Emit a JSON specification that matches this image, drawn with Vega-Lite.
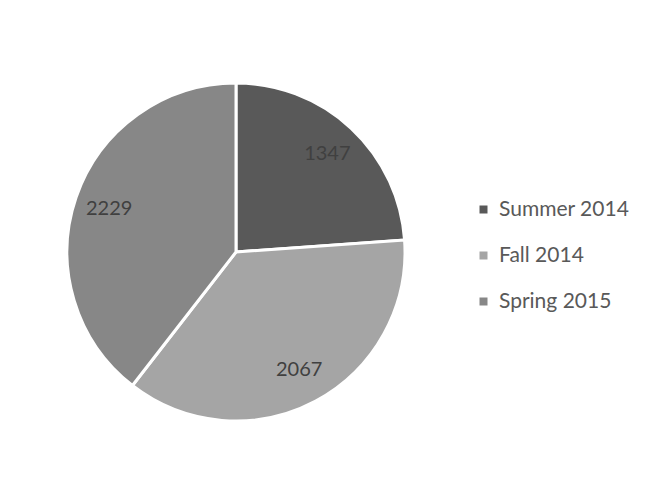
{
  "$schema": "https://vega.github.io/schema/vega-lite/v6.json",
  "autosize": "none",
  "padding": {"left": 5, "top": 8, "right": 187, "bottom": 0},
  "width": 462,
  "height": 488,
  "background": "white",
  "data": {"values": [
    {"term": "Summer 2014", "count": 1347, "idx": 1},
    {"term": "Fall 2014", "count": 2067, "idx": 2},
    {"term": "Spring 2015", "count": 2229, "idx": 3}
  ]},
  "encoding": {
    "theta": {"field": "count", "type": "quantitative", "stack": true},
    "order": {"field": "idx", "type": "quantitative", "sort": "ascending"}
  },
  "layer": [
    {
      "mark": {"type": "arc", "outerRadius": 169, "stroke": "white", "strokeWidth": 3},
      "encoding": {
        "color": {
          "field": "term", "type": "nominal",
          "scale": {"domain": ["Summer 2014", "Fall 2014", "Spring 2015"], "range": ["#595959", "#a5a5a5", "#878787"]},
          "legend": {
            "title": null, "orient": "none", "legendX": 468, "legendY": 191,
            "symbolType": "square", "symbolSize": 64, "symbolStrokeWidth": 0,
            "labelFont": "Lato", "labelFontSize": 21, "labelColor": "#595959",
            "labelOffset": 5, "rowPadding": 24
          }
        }
      }
    },
    {
      "mark": {"type": "text", "radius": 134, "font": "Lato", "fontSize": 20, "color": "#404040"},
      "encoding": {"text": {"field": "count", "type": "quantitative"}}
    }
  ],
  "config": {"view": {"stroke": null}}
}
